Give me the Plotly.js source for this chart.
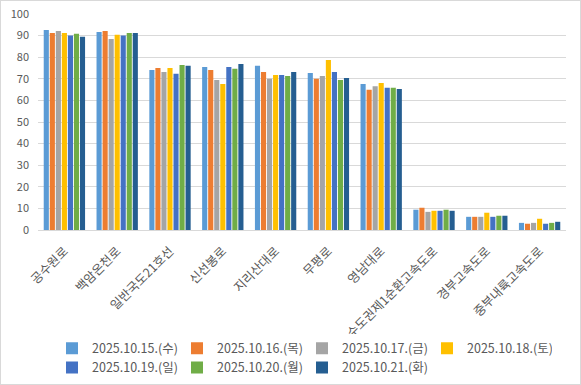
<!DOCTYPE html>
<html>
<head>
<meta charset="utf-8">
<script src="https://cdn.plot.ly/plotly-3.0.1.min.js"></script>
<style>
  html, body { margin: 0; padding: 0; background: #ffffff; }
  #chart { width: 579px; height: 383px; border: 1px solid #D9D9D9; }
</style>
</head>
<body>
<div id="chart"></div>
<script>
const categories = ["공수원로", "백암온천로", "일반국도21호선", "신선봉로", "지리산대로", "무평로", "영남대로", "수도권제1순환고속도로", "경부고속도로", "중부내륙고속도로"];
const seriesNames = ["2025.10.15.(수)", "2025.10.16.(목)", "2025.10.17.(금)", "2025.10.18.(토)", "2025.10.19.(일)", "2025.10.20.(월)", "2025.10.21.(화)"];
const d1015 = [92.6, 91.7, 74.1, 75.5, 76.0, 72.7, 67.6, 9.4, 6.1, 3.3];
const d1016 = [91.2, 92.1, 75.0, 74.1, 73.2, 70.0, 64.9, 10.3, 6.1, 2.9];
const d1017 = [92.1, 88.4, 73.2, 69.5, 70.0, 71.3, 66.6, 8.4, 6.1, 3.3];
const d1018 = [91.2, 90.4, 75.0, 67.6, 71.8, 78.7, 68.0, 8.9, 8.0, 5.2];
const d1019 = [90.0, 90.0, 72.3, 75.5, 71.8, 73.2, 65.8, 8.9, 6.1, 2.9];
const d1020 = [90.9, 91.2, 76.4, 74.6, 71.3, 69.5, 65.8, 9.4, 6.6, 3.3];
const d1021 = [89.5, 91.2, 76.0, 76.9, 73.2, 70.4, 65.3, 8.9, 6.6, 3.8];
const yTicks = [0, 10, 20, 30, 40, 50, 60, 70, 80, 90, 100];

const seriesValues = [d1015, d1016, d1017, d1018, d1019, d1020, d1021];
const colors = ["#5B9BD5", "#ED7D31", "#A5A5A5", "#FFC000", "#4472C4", "#70AD47", "#255E91"];
const FONT = '"Noto Sans CJK KR", "Noto Sans", sans-serif';

const traces = seriesValues.map((vals, i) => ({
  type: "bar",
  name: seriesNames[i],
  x: categories,
  y: vals,
  marker: { color: colors[i], line: { width: 0 } },
  hoverinfo: "x+y+name"
}));

const layout = {
  width: 579,
  height: 383,
  margin: { l: 37, r: 14, t: 13, b: 154, autoexpand: false },
  paper_bgcolor: "#ffffff",
  plot_bgcolor: "#ffffff",
  barmode: "group",
  bargap: 0.2,
  bargroupgap: 0.15,
  font: { family: FONT, color: "#595959", size: 11 },
  xaxis: {
    type: "category",
    automargin: false,
    tickangle: -45,
    tickfont: { family: FONT, size: 12.5, color: "#595959" },
    showgrid: false,
    showline: true,
    linecolor: "#D9D9D9",
    linewidth: 1,
    ticks: "",
    ticklabelstandoff: 8,
    fixedrange: true
  },
  yaxis: {
    range: [0, 100],
    automargin: false,
    tickvals: yTicks,
    ticktext: yTicks.map(String),
    tickfont: { family: FONT, size: 11, color: "#595959" },
    showgrid: true,
    gridcolor: "#D9D9D9",
    gridwidth: 1,
    zeroline: false,
    showline: false,
    ticks: "",
    ticklabelstandoff: 8,
    fixedrange: true
  },
  legend: {
    orientation: "h",
    x: 0.5,
    xanchor: "center",
    y: -0.48,
    yanchor: "top",
    font: { family: FONT, size: 12.5, color: "#595959" },
    entrywidth: 80,
    entrywidthmode: "pixels",
    tracegroupgap: 0,
    itemclick: false,
    itemdoubleclick: false
  },
  showlegend: true
};

Plotly.newPlot("chart", traces, layout, { displayModeBar: false, staticPlot: true });
</script>
</body>
</html>
